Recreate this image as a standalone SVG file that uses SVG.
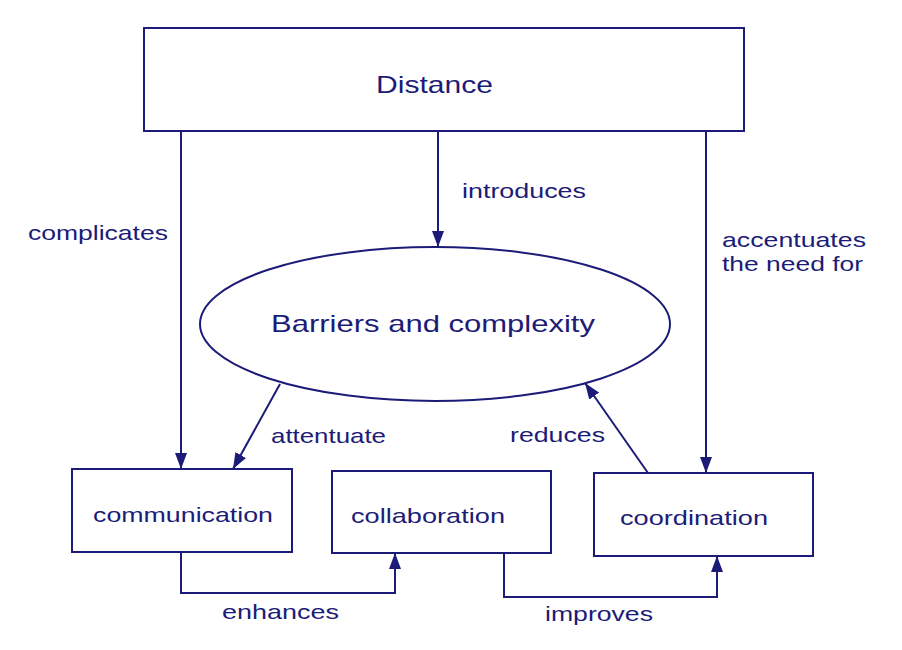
<svg xmlns="http://www.w3.org/2000/svg" width="902" height="650" viewBox="0 0 902 650">
<defs>
<style>
.n{fill:#fff;stroke:#1c1c78;stroke-width:2}
.c{fill:none;stroke:#1c1c78;stroke-width:2}
text{font-family:"Liberation Sans",Arial,sans-serif;fill:#1c1c78}
.big{font-size:24px}
.t{font-size:21px}
</style>
<marker id="ah" viewBox="0 0 16 12" refX="16" refY="6" markerWidth="16" markerHeight="12" markerUnits="userSpaceOnUse" orient="auto">
<path d="M0,0 L16,6 L0,12 Z" fill="#1c1c78"/>
</marker>
</defs>
<rect width="902" height="650" fill="#fff"/>
<g id="connectors">
<path class="c" d="M181,131 V469" marker-end="url(#ah)"/>
<path class="c" d="M438,131 V247" marker-end="url(#ah)"/>
<path class="c" d="M706,131 V473" marker-end="url(#ah)"/>
<path class="c" d="M280,384 L233,469" marker-end="url(#ah)"/>
<path class="c" d="M648,473 L585,383" marker-end="url(#ah)"/>
<path class="c" d="M181,552 V593 H395 V553" marker-end="url(#ah)"/>
<path class="c" d="M504,553 V597 H717 V556" marker-end="url(#ah)"/>
<text class="t" x="28" y="240" textLength="140" lengthAdjust="spacingAndGlyphs">complicates</text>
<text class="t" x="462" y="198" textLength="124" lengthAdjust="spacingAndGlyphs">introduces</text>
<text class="t" x="722" y="247" textLength="144" lengthAdjust="spacingAndGlyphs">accentuates</text>
<text class="t" x="722" y="271" textLength="141" lengthAdjust="spacingAndGlyphs">the need for</text>
<text class="t" x="271" y="443" textLength="115" lengthAdjust="spacingAndGlyphs">attentuate</text>
<text class="t" x="510" y="442" textLength="95" lengthAdjust="spacingAndGlyphs">reduces</text>
<text class="t" x="222" y="619" textLength="117" lengthAdjust="spacingAndGlyphs">enhances</text>
<text class="t" x="545" y="621" textLength="108" lengthAdjust="spacingAndGlyphs">improves</text>
</g>
<g id="distance">
<rect class="n" x="144" y="28" width="600" height="103"/>
<text class="big" x="376" y="93" textLength="117" lengthAdjust="spacingAndGlyphs">Distance</text>
</g>
<g id="barriers">
<ellipse class="n" cx="435" cy="324" rx="235" ry="77"/>
<text class="big" x="271" y="332" textLength="324" lengthAdjust="spacingAndGlyphs">Barriers and complexity</text>
</g>
<g id="communication">
<rect class="n" x="72" y="469" width="220" height="83"/>
<text class="t" x="93" y="522" textLength="180" lengthAdjust="spacingAndGlyphs">communication</text>
</g>
<g id="collaboration">
<rect class="n" x="332" y="471" width="219" height="82"/>
<text class="t" x="351" y="523" textLength="154" lengthAdjust="spacingAndGlyphs">collaboration</text>
</g>
<g id="coordination">
<rect class="n" x="594" y="473" width="219" height="83"/>
<text class="t" x="620" y="525" textLength="148" lengthAdjust="spacingAndGlyphs">coordination</text>
</g>
</svg>
